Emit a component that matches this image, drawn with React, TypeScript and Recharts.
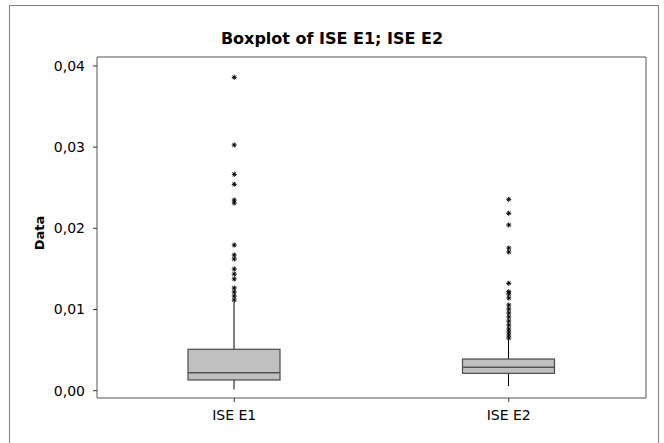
import React from "react";
import { ComposedChart, Bar, Scatter, XAxis, YAxis, ReferenceArea } from "recharts";

const categories = ["ISE E1", "ISE E2"];
const positions = [0.5, 1.5];
const mins = [0.00017, 0.00058];
const q1s = [0.00132, 0.00214];
const medians = [0.00222, 0.00288];
const q3s = [0.0051, 0.0039];
const maxs = [0.0109, 0.0065];

const outliersE1 = [
  0.0386, 0.03026, 0.02665, 0.02542, 0.02348, 0.02312, 0.01794, 0.01671, 0.01622,
  0.01499, 0.01437, 0.01376, 0.01265, 0.01216, 0.01166, 0.01117,
];
const outliersE2 = [
  0.02357, 0.02185, 0.02041, 0.01757, 0.01708, 0.01323, 0.01219, 0.01191, 0.01142,
  0.01055, 0.01006, 0.00957, 0.00908, 0.00858, 0.00809, 0.0076, 0.00723, 0.00686,
  0.00649,
];

const yTicks = [0, 0.01, 0.02, 0.03, 0.04];

const boxData = categories.map((name, i) => ({
  name,
  x: positions[i],
  min: mins[i],
  q1: q1s[i],
  median: medians[i],
  q3: q3s[i],
  max: maxs[i],
}));

const outlierData = [outliersE1, outliersE2].map((vals, i) =>
  vals.map((v) => ({ x: positions[i], y: v }))
);

const FONT = "'DejaVu Sans', Verdana, sans-serif";

// box + whiskers, scaled from the bar's own pixel height
const BoxShape = (props: any) => {
  const { x, y, width, height, payload } = props;
  const ppu = height / (payload.q3 - payload.q1);
  const cx = x + width / 2;
  const bottom = y + height;
  const medY = bottom - (payload.median - payload.q1) * ppu;
  const topW = y - (payload.max - payload.q3) * ppu;
  const botW = bottom + (payload.q1 - payload.min) * ppu;
  return (
    <g>
      <line x1={cx} x2={cx} y1={topW} y2={y} stroke="#000" />
      <line x1={cx} x2={cx} y1={bottom} y2={botW} stroke="#000" />
      <rect x={x} y={y} width={width} height={height} fill="#c0c0c0" stroke="#4a4a4a" strokeWidth={1.2} />
      <line x1={x} x2={x + width} y1={medY} y2={medY} stroke="#555" strokeWidth={1.5} />
    </g>
  );
};

const Star = (props: any) => {
  const { cx, cy } = props;
  const r = 2.5;
  const d = 1.8;
  return (
    <g stroke="#000" strokeWidth={1}>
      <line x1={cx} x2={cx} y1={cy - r} y2={cy + r} />
      <line x1={cx - r} x2={cx + r} y1={cy} y2={cy} />
      <line x1={cx - d} x2={cx + d} y1={cy - d} y2={cy + d} />
      <line x1={cx - d} x2={cx + d} y1={cy + d} y2={cy - d} />
    </g>
  );
};

export default function App() {
  return (
    <div style={{ position: "absolute", left: 0, top: 0, width: 664, height: 443, background: "#fff" }}>
      <div
        style={{
          position: "absolute",
          left: 9,
          top: 5,
          width: 650,
          height: 445,
          border: "1px solid #808080",
          boxSizing: "border-box",
        }}
      />
      <ComposedChart
        width={664}
        height={443}
        data={boxData}
        margin={{ top: 57, right: 18, bottom: 15, left: 37 }}
        style={{ position: "absolute", left: 0, top: 0 }}
      >
        <XAxis
          dataKey="x"
          type="number"
          domain={[0, 2]}
          ticks={positions}
          allowDataOverflow
          tickFormatter={(v: number) => categories[positions.indexOf(v)]}
          height={30}
          tickSize={4}
          tickMargin={8}
          axisLine={false}
          tickLine={{ stroke: "#333" }}
          tick={{ fill: "#000", fontSize: 14, fontFamily: FONT }}
        />
        <YAxis
          type="number"
          domain={[-0.0009, 0.0411]}
          ticks={yTicks}
          allowDataOverflow
          tickFormatter={(v: number) => v.toFixed(2).replace(".", ",")}
          width={60}
          tickSize={4}
          tickMargin={8}
          axisLine={false}
          tickLine={{ stroke: "#333" }}
          tick={{ fill: "#000", fontSize: 14, fontFamily: FONT }}
        />
        <ReferenceArea
          x1={0}
          x2={2}
          y1={-0.0009}
          y2={0.0411}
          fill="none"
          stroke="#555"
          strokeWidth={1}
          fillOpacity={0}
        />
        <Bar
          dataKey={(d: any) => [d.q1, d.q3]}
          barSize={92}
          shape={BoxShape}
          isAnimationActive={false}
        />
        {outlierData.map((pts, i) => (
          <Scatter
            key={categories[i]}
            data={pts}
            dataKey="y"
            shape={Star}
            isAnimationActive={false}
          />
        ))}
      </ComposedChart>
      <svg
        width={664}
        height={443}
        style={{ position: "absolute", left: 0, top: 0, pointerEvents: "none" }}
      >
        <text x={332} y={44} textAnchor="middle" fontFamily={FONT} fontWeight="bold" fontSize={16} fill="#000">
          Boxplot of ISE E1; ISE E2
        </text>
        <text
          x={44}
          y={233}
          textAnchor="middle"
          transform="rotate(-90 44 233)"
          fontFamily={FONT}
          fontWeight="bold"
          fontSize={13}
          fill="#000"
        >
          Data
        </text>
      </svg>
    </div>
  );
}
